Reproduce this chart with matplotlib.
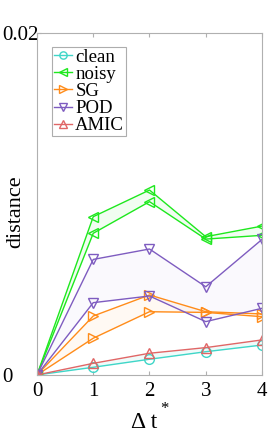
import matplotlib
matplotlib.use("Agg")
import matplotlib.pyplot as plt
import numpy as np

dt = [0, 1, 2, 3, 4]
clean = [0, 0.00045, 0.00092, 0.00136, 0.00175]
amic = [0, 0.00068, 0.00127, 0.00160, 0.00205]
sg_a = [0, 0.00345, 0.00468, 0.00370, 0.00357]
sg_b = [0, 0.00215, 0.00370, 0.00366, 0.00341]
pod_a = [0, 0.00676, 0.00737, 0.00516, 0.00793]
pod_b = [0, 0.00423, 0.00462, 0.00312, 0.00390]
noisy_a = [0, 0.00926, 0.01082, 0.00809, 0.00871]
noisy_b = [0, 0.00829, 0.01014, 0.00795, 0.00817]

c_clean = "#3fd6c8"
c_noisy = "#1ee81e"
c_sg = "#ff8c1a"
c_pod = "#7e5cc0"
c_amic = "#e06666"

plt.rcParams['font.family'] = ['Liberation Serif', 'DejaVu Serif']

fig = plt.figure(figsize=(2.69, 4.36), dpi=100)
ax = fig.add_axes([0.1375, 0.140, 0.8365, 0.784])

# faint ensemble bands
ax.fill_between(dt, noisy_b, noisy_a, color=c_noisy, alpha=0.06, lw=0)
ax.fill_between(dt, pod_b, pod_a, color=c_pod, alpha=0.03, lw=0)
ax.fill_between(dt, sg_b, sg_a, color=c_sg, alpha=0.05, lw=0)
ax.fill_between(dt, clean, amic, color=c_clean, alpha=0.08, lw=0)

kw = dict(lw=1.0, ms=7, mfc='none', mew=1.0)
ax.plot(dt, clean, marker='o', color=c_clean, label='clean', **kw)
ax.plot(dt, noisy_a, marker='<', color=c_noisy, label='noisy', **kw)
ax.plot(dt, noisy_b, marker='<', color=c_noisy, **kw)
ax.plot(dt, sg_a, marker='>', color=c_sg, label='SG', **kw)
ax.plot(dt, sg_b, marker='>', color=c_sg, **kw)
ax.plot(dt, pod_a, marker='v', color=c_pod, label='POD', **kw)
ax.plot(dt, pod_b, marker='v', color=c_pod, **kw)
ax.plot(dt, amic, marker='^', color=c_amic, label='AMIC', **kw)

ax.set_xlim(0, 4)
ax.set_ylim(0, 0.02)
ax.set_xticks([0, 1, 2, 3, 4])
ax.set_yticks([0, 0.02])
ax.set_yticklabels(['0', '0.02'])
ax.tick_params(direction='in', length=3, color='#b0b0b0', labelsize=15, top=True, right=False)
ax.tick_params(axis='x', pad=5)
ax.tick_params(axis='y', pad=25)
for lab in ax.get_yticklabels():
    lab.set_horizontalalignment('left')
for s in ax.spines.values():
    s.set_color('#b0b0b0')
    s.set_linewidth(0.8)

ax.set_ylabel('distance', fontsize=16)
ax.yaxis.set_label_coords(-0.053, 0.477)

# x label: "Δ t" with a raised asterisk
fig.text(144 / 269, 1 - 428 / 436, 'Δ t', fontsize=17, ha='center', va='baseline')
fig.text(160 / 269, 1 - 401 / 436, '*', fontsize=12, ha='left', va='top')

leg = ax.legend(loc='upper left', fontsize=13.5, frameon=True, fancybox=False,
                edgecolor='#999999', handlelength=1.0, handletextpad=0.15,
                borderpad=0.1, labelspacing=0.0, borderaxespad=0.0,
                bbox_to_anchor=(0.066, 0.96), markerscale=0.75)
leg.get_frame().set_linewidth(0.8)

fig.savefig('out.png', dpi=100)
